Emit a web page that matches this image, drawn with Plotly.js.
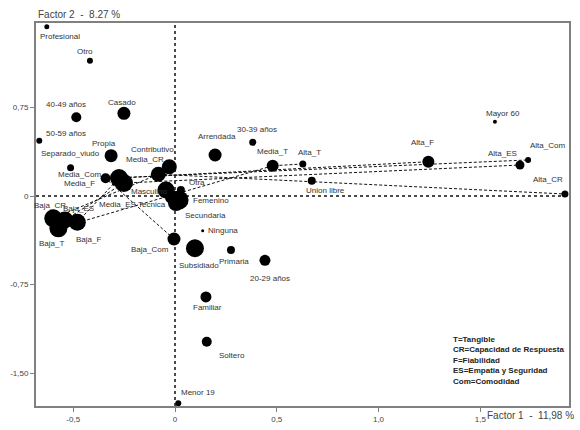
<!DOCTYPE html>
<html>
<head>
<meta charset="utf-8">
<script src="https://cdn.plot.ly/plotly-3.0.1.min.js"></script>
<style>html,body{margin:0;padding:0;background:#fff;}#chart{width:580px;height:430px;}</style>
</head>
<body>
<div id="chart"></div>
<script>
// ---- data ----
const names = ["Profesional","Otro","40-49 años","Casado","50-59 años","Propia","Separado_viudo",
  "Media_Com","Media_F","Media_ES","Contributivo","Media_CR","Masculino","Femenino","Secundaria","Tecnica","Otra",
  "Baja_CR","Baja_T","Baja_ES","Baja_F","Baja_Com","Arrendada","30-39 años","Media_T","Alta_T","Union libre",
  "Alta_F","Mayor 60","Alta_ES","Alta_Com","Alta_CR","Ninguna","Subsidiado","Primaria","20-29 años","Familiar","Soltero","Menor 19"];
const factor1 = [-0.630,-0.418,-0.485,-0.251,-0.667,-0.314,-0.513,
  -0.341,-0.275,-0.251,-0.028,-0.082,-0.044,0.020,0.005,-0.015,0.029,
  -0.598,-0.573,-0.541,-0.480,-0.005,0.197,0.382,0.480,0.628,0.672,
  1.245,1.572,1.695,1.735,1.916,0.136,0.098,0.275,0.442,0.152,0.156,0.016];
const factor2 = [1.432,1.145,0.666,0.700,0.468,0.341,0.239,
  0.150,0.152,0.110,0.248,0.184,0.051,-0.034,-0.059,-0.008,0.051,
  -0.189,-0.273,-0.203,-0.222,-0.364,0.347,0.454,0.256,0.271,0.129,
  0.290,0.629,0.262,0.305,0.017,-0.294,-0.442,-0.457,-0.544,-0.854,-1.233,-1.754];
// dimension paths (Baja -> Media -> Alta)
const pathT = ["Baja_T","Media_T","Alta_T"];
const pathCR = ["Baja_CR","Media_CR","Alta_CR"];
const pathF = ["Baja_F","Media_F","Alta_F"];
const pathES = ["Baja_ES","Media_ES","Alta_ES"];
const pathCom = ["Baja_Com","Media_Com","Alta_Com"];
const xTickVals = [-0.5,0,0.5,1,1.5];
const xTickText = ["-0,5","0","0,5","1,0","1,5"];
const yTickVals = [0.75,0,-0.75,-1.5];
const yTickText = ["0,75","0","-0,75","-1,50"];
const legendLines = ["T=Tangible","CR=Capacidad de Respuesta","F=Fiabilidad","ES=Empatia y Seguridad","Com=Comodidad"];

// ---- styles ----
const markerSizes = [5,6,10,13,6,13,7, 10,18,18,15,15,17,19,16,14,8, 18,18,17,17,13,13,7,12,7,8, 12,4,9,6,7,3,18,8,11,11,10,6];
const labelDX = [13,-5,-10,-2,27,-7,0, -26,-40,-6,-17,-13,-17,32,29,-20,16, -3,-7,14,11,-24,2,4,0,7,14, -6,8,-17,19,-17,20,4,3,5,2,25,20];
const labelDY = [10,-9,-13,-11,-7,-12,-14, -4,5,21,-17,-15,2,0,13,8,-7, -13,15,-12,17,10,-19,-13,-14,-11,10, -19,-8,-12,-14,-15,0,17,11,18,11,14,-11];

const FONT = 'Liberation Sans, Arial, sans-serif';

function pathTrace(p){
  const xs = p.map(n => factor1[names.indexOf(n)]);
  const ys = p.map(n => factor2[names.indexOf(n)]);
  return {x: xs, y: ys, mode: 'lines', type: 'scatter', hoverinfo: 'skip', showlegend: false,
    line: {color: '#111', width: 1, dash: '3px,2px'}};
}

const traces = [pathT, pathCR, pathF, pathES, pathCom].map(pathTrace);
traces.push({x: factor1, y: factor2, mode: 'markers', type: 'scatter', text: names, showlegend: false,
  marker: {size: markerSizes, color: '#000', opacity: 1, line: {width: 0}}});

const annotations = names.map((n, i) => ({
  x: factor1[i], y: factor2[i], xref: 'x', yref: 'y', text: n, showarrow: false,
  xshift: labelDX[i], yshift: -labelDY[i], xanchor: 'center', yanchor: 'middle',
  font: {family: FONT, size: 8, color: '#333'}
}));
annotations.push({xref: 'paper', yref: 'paper', x: 0, y: 1, xanchor: 'left', yanchor: 'bottom', yshift: 1,
  text: 'Factor 2  -  8.27 %', showarrow: false, font: {family: FONT, size: 10, color: '#444'}});
annotations.push({xref: 'paper', yref: 'paper', x: 1, y: 0, xanchor: 'right', yanchor: 'top', yshift: -2, xshift: 7,
  text: 'Factor 1  -  11,98 %', showarrow: false, font: {family: FONT, size: 10, color: '#444'}});
annotations.push({xref: 'paper', yref: 'paper', x: 0.778, y: 0.19, xanchor: 'left', yanchor: 'top', align: 'left',
  text: legendLines.map(s => '<b>' + s + '</b>').join('<br>'), showarrow: false,
  font: {family: FONT, size: 8, color: '#222'}});

const layout = {
  width: 580, height: 430,
  margin: {l: 36, r: 11, t: 23, b: 24},
  paper_bgcolor: '#fff', plot_bgcolor: '#fff',
  showlegend: false,
  xaxis: {range: [-0.683, 1.936], tickvals: xTickVals, ticktext: xTickText, showgrid: false, zeroline: false,
    showline: true, mirror: true, linecolor: '#808080', linewidth: 2, ticks: 'outside', ticklen: 4, tickcolor: '#808080',
    tickfont: {family: FONT, size: 8, color: '#444'}},
  yaxis: {range: [-1.777, 1.464], tickvals: yTickVals, ticktext: yTickText, showgrid: false, zeroline: false,
    showline: true, mirror: true, linecolor: '#808080', linewidth: 2, ticks: 'outside', ticklen: 4, tickcolor: '#808080',
    tickfont: {family: FONT, size: 8, color: '#444'}},
  shapes: [
    {type: 'line', xref: 'x', yref: 'paper', x0: 0, x1: 0, y0: 0, y1: 1, line: {color: '#111', width: 1.5, dash: 'dot'}, layer: 'below'},
    {type: 'line', xref: 'paper', yref: 'y', x0: 0, x1: 1, y0: 0, y1: 0, line: {color: '#111', width: 1.5, dash: 'dot'}, layer: 'below'}
  ],
  annotations: annotations
};

Plotly.newPlot('chart', traces, layout, {displayModeBar: false, staticPlot: true});
</script>
</body>
</html>
